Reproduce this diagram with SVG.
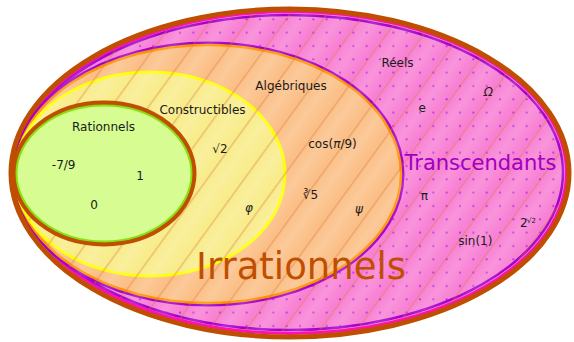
<svg xmlns="http://www.w3.org/2000/svg" width="574" height="342" viewBox="0 0 574 342">
<style>
text{font-family:"DejaVu Sans","Liberation Sans",sans-serif;fill:#1a1a1a;font-size:12px;text-anchor:middle}
.it{font-style:italic}
</style>
<defs>
<linearGradient id="band" x1="0" y1="0" x2="1" y2="0">
<stop offset="0" stop-color="#fff" stop-opacity="0"/>
<stop offset="0.5" stop-color="#fff" stop-opacity="0.16"/>
<stop offset="1" stop-color="#fff" stop-opacity="0"/>
</linearGradient>
<pattern id="hatch" patternUnits="userSpaceOnUse" width="30" height="30" patternTransform="rotate(36)">
<rect x="0" y="0" width="30" height="30" fill="url(#band)"/>
<line x1="2.9" y1="0" x2="2.9" y2="30" stroke="#d8753a" stroke-width="0.6"/>
</pattern>
<pattern id="dots" patternUnits="userSpaceOnUse" width="13.333" height="13.333">
<circle cx="6.67" cy="6" r="1.1" fill="#b828d8"/>
</pattern>
</defs>
<g id="reels">
<ellipse cx="290.5" cy="172.5" rx="276" ry="161" fill="#f880d4" stroke="#ff10b0" stroke-width="3"/>
<ellipse cx="290.5" cy="172.5" rx="274" ry="159" fill="url(#dots)"/>
</g>
<g id="transcendants">
<ellipse cx="289.5" cy="172.5" rx="273.5" ry="157.5" fill="none" stroke="#a000c8" stroke-width="2.5"/>
</g>
<g id="algebriques">
<ellipse cx="208" cy="174" rx="195" ry="131" fill="none" stroke="#a000c8" stroke-width="3"/>
<ellipse cx="208" cy="174" rx="193" ry="129" fill="#fbbf86" stroke="#ff9000" stroke-width="2.5"/>
</g>
<g id="constructibles">
<ellipse cx="150" cy="174" rx="135" ry="102" fill="#f8ec8a" stroke="#ffff00" stroke-width="3"/>
</g>
<g id="irrationnels-hatch">
<ellipse cx="290.5" cy="172.5" rx="274.5" ry="159.5" fill="url(#hatch)"/>
</g>
<g id="rationnels">
<ellipse cx="104" cy="173.5" rx="90" ry="70.5" fill="none" stroke="#c04e00" stroke-width="5"/>
<ellipse cx="104" cy="173.5" rx="87.5" ry="68" fill="#d6fc92" stroke="#88e010" stroke-width="2"/>
</g>
<g id="irrationnels">
<ellipse cx="290" cy="173" rx="279" ry="164" fill="none" stroke="#c04e00" stroke-width="5"/>
</g>
<g id="labels">
<text x="397.5" y="67">Réels</text>
<text x="422.3" y="112">e</text>
<text x="488.3" y="96" class="it">Ω</text>
<text x="291" y="90">Algébriques</text>
<text x="202.5" y="114">Constructibles</text>
<text x="103.5" y="131">Rationnels</text>
<text x="220" y="152.5">√2</text>
<text x="332.5" y="147.5">cos(<tspan class="it">π</tspan>/9)</text>
<text x="310.5" y="199">∛5</text>
<text x="249" y="212" class="it">φ</text>
<text x="359" y="213" class="it">ψ</text>
<text x="63.7" y="168.5">-7/9</text>
<text x="140" y="180">1</text>
<text x="94" y="209">0</text>
<text x="424.3" y="200">π</text>
<text x="475.3" y="245">sin(1)</text>
<text x="523.7" y="227.3">2</text>
<text x="531.5" y="223" style="font-size:7px">√2</text>
<text x="480.5" y="170" style="font-size:21px;fill:#a000c0">Transcendants</text>
<text x="301" y="279" style="font-size:37px;fill:#c04e00">Irrationnels</text>
</g>
</svg>
